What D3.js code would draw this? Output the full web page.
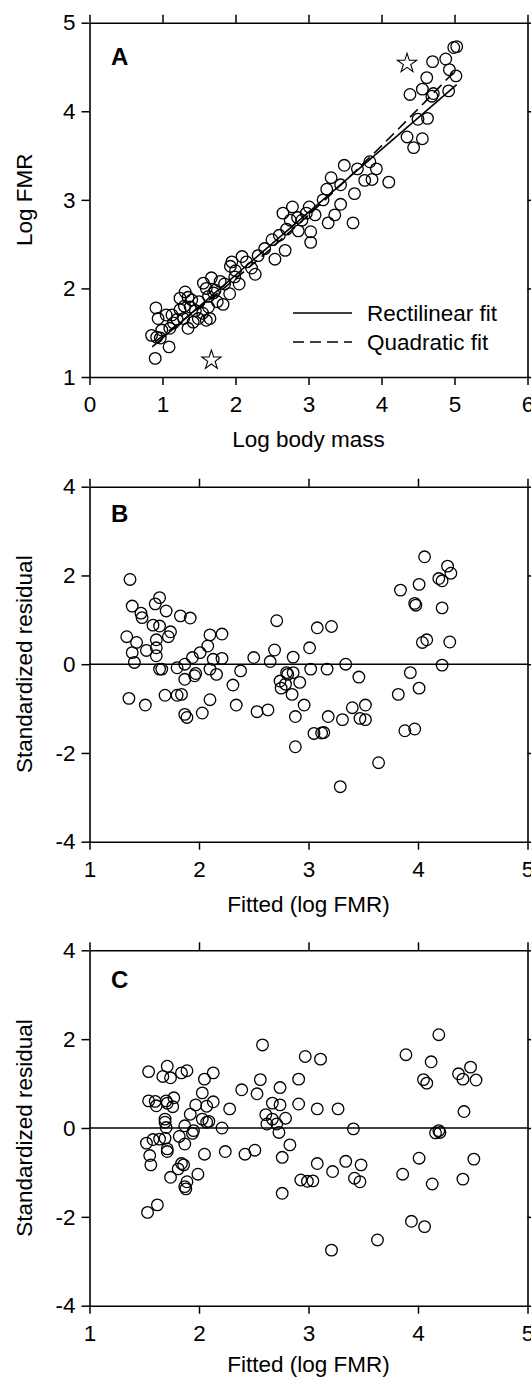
<!DOCTYPE html>
<html><head><meta charset="utf-8">
<script src="https://cdn.jsdelivr.net/npm/d3@7"></script>
<style>body{margin:0;background:#fff}svg{display:block;font-family:"Liberation Sans",Arial,sans-serif}</style>
</head><body><svg id="c" width="531" height="1382"></svg>
<script>
// ---------- DATA ----------
const massA = [5.03,4.99,4.88,4.70,4.93,5.02,4.62,4.56,4.92,4.39,4.69,4.71,4.50,4.63,4.35,4.56,4.44,3.49,3.67,3.84,3.93,3.77,3.87,4.10,3.31,3.25,3.44,3.63,3.01,3.44,3.20,3.09,3.03,3.03,3.27,3.36,3.61,2.91,
 2.78,2.75,2.70,2.86,2.97,2.50,2.68,2.54,2.31,2.09,2.27,2.22,1.93,1.99,1.67,1.56,1.72,1.79,1.92,1.83,1.63,1.63,1.65,1.60,1.49,1.40,1.31,1.24,1.38,1.24,1.29,1.35,1.15,1.13,1.05,0.91,0.94,0.99,0.85,0.92,0.97,1.09,0.90,
 1.45,1.50,1.35,1.20,1.70,1.85,2.00,2.15,2.40,2.60,2.65,2.85,1.10,1.55,1.75,2.05,1.30,1.42,1.60,1.95];
const fmrA  = [4.73,4.72,4.59,4.56,4.47,4.40,4.38,4.25,4.23,4.19,4.17,4.20,3.91,3.92,3.71,3.69,3.59,3.39,3.35,3.43,3.35,3.22,3.23,3.20,3.25,3.12,3.17,3.07,2.92,2.95,3.00,2.83,2.64,2.52,2.74,2.83,2.74,2.77,
 2.92,2.77,2.67,2.65,2.85,2.55,2.43,2.33,2.37,2.36,2.16,2.23,2.25,2.13,2.12,2.06,1.98,2.08,1.94,1.82,1.91,1.79,1.66,1.64,1.66,1.87,1.96,1.89,1.79,1.76,1.66,1.55,1.61,1.70,1.70,1.78,1.66,1.53,1.47,1.45,1.44,1.34,1.21,
 1.75,1.85,1.90,1.65,1.95,2.05,2.20,2.30,2.45,2.60,2.85,2.80,1.55,1.72,1.85,2.05,1.80,1.62,2.00,2.30];
const starX = [1.67,4.35];
const starY = [1.19,4.54];
const linFitX = [0.86,5.03];
const linFitY = [1.34,4.30];
const quadFitX = [0.90,2.00,3.00,4.00,5.00];
const quadFitY = [1.40,2.11,2.83,3.61,4.45];
const legendLabels = ["Rectilinear fit","Quadratic fit"];

const fittedB = [1.37,1.39,1.47,1.48,1.64,1.60,1.70,1.83,1.92,1.58,1.64,1.74,1.72,1.61,1.34,1.43,1.52,1.61,1.39,1.61,1.41,2.10,2.21,2.08,2.01,1.94,2.13,2.21,2.71,2.69,2.50,2.65,2.86,3.01,
 4.06,4.27,4.30,4.19,4.22,4.01,3.84,3.97,3.98,4.22,3.08,3.21,4.08,4.04,4.29,3.34,3.02,3.17,4.22,
 1.64,1.66,1.80,1.87,1.97,1.96,1.87,2.10,2.16,2.38,2.31,1.36,1.51,1.69,1.80,1.84,2.10,2.34,1.87,1.89,2.03,2.53,2.63,2.74,2.80,2.81,2.86,2.79,2.75,2.85,2.92,2.96,2.88,2.88,
 3.46,3.93,4.01,3.18,3.31,3.40,3.52,3.47,3.52,3.82,3.05,3.12,3.14,3.88,3.97,3.64,3.29];
const residB = [1.91,1.31,1.15,1.05,1.50,1.36,1.20,1.09,1.04,0.88,0.86,0.73,0.62,0.55,0.62,0.49,0.31,0.37,0.26,0.19,0.04,0.66,0.68,0.41,0.26,0.15,0.11,0.13,0.98,0.32,0.15,0.06,0.16,0.37,
 2.42,2.21,2.05,1.93,1.88,1.80,1.67,1.37,1.33,1.27,0.82,0.85,0.55,0.49,0.50,0.00,-0.11,-0.11,-0.02,
 -0.11,-0.11,-0.08,0.00,-0.21,-0.26,-0.34,-0.11,-0.23,-0.15,-0.47,-0.77,-0.92,-0.70,-0.70,-0.68,-0.80,-0.92,-1.13,-1.20,-1.10,-1.07,-1.03,-0.38,-0.19,-0.23,-0.19,-0.45,-0.54,-0.68,-0.41,-0.92,-1.18,-1.86,
 -0.29,-0.19,-0.54,-1.18,-1.25,-0.98,-0.92,-1.22,-1.25,-0.68,-1.56,-1.55,-1.54,-1.50,-1.46,-2.22,-2.76];

const fittedC = [2.58,2.97,1.54,1.71,1.67,1.74,1.84,1.89,2.05,2.13,2.03,2.56,2.74,2.91,2.39,2.53,1.54,1.60,1.61,1.70,1.71,1.77,1.76,1.97,2.13,2.07,1.92,1.69,2.03,2.09,2.28,2.67,2.74,2.91,2.61,2.67,2.79,
 4.19,3.89,3.11,4.12,4.48,4.37,4.41,4.53,4.05,4.08,3.08,3.27,4.42,3.41,4.19,
 1.69,1.70,1.87,1.95,1.94,2.07,2.21,2.62,2.71,2.73,1.52,1.58,1.64,1.69,1.82,1.87,1.71,1.71,1.55,1.56,2.05,2.24,2.42,2.51,2.83,2.76,1.84,1.86,1.81,1.99,1.74,1.89,1.87,1.88,2.76,2.93,2.99,1.62,1.53,
 4.16,4.20,3.08,3.22,3.34,3.48,3.42,3.47,3.04,3.86,4.01,4.13,4.41,4.51,3.94,4.06,3.63,3.21];
const residC = [1.87,1.61,1.27,1.39,1.16,1.13,1.24,1.29,1.10,1.24,0.79,1.09,0.91,1.10,0.86,0.77,0.61,0.60,0.50,0.61,0.56,0.68,0.48,0.52,0.59,0.49,0.31,0.20,0.20,0.15,0.43,0.56,0.52,0.54,0.30,0.20,0.22,
 2.10,1.65,1.55,1.49,1.37,1.22,1.10,1.08,1.09,1.01,0.43,0.43,0.37,-0.02,-0.06,
 0.13,0.01,0.05,-0.06,-0.12,0.13,0.00,0.09,0.09,-0.10,-0.34,-0.26,-0.25,-0.23,-0.19,-0.36,-0.47,-0.53,-0.62,-0.83,-0.59,-0.53,-0.59,-0.50,-0.38,-0.66,-0.80,-0.83,-0.92,-1.04,-1.11,-1.21,-1.32,-1.37,-1.47,-1.17,-1.20,-1.73,-1.90,
 -0.11,-0.10,-0.80,-0.98,-0.75,-0.83,-1.13,-1.21,-1.19,-1.04,-0.68,-1.26,-1.15,-0.70,-2.10,-2.22,-2.52,-2.75];

const ticksA_x = [0,1,2,3,4,5,6];
const ticksA_y = [1,2,3,4,5];
const ticksRes_x = [1,2,3,4,5];
const ticksRes_y = [-4,-2,0,2,4];

// ---------- DRAW ----------
const svg = d3.select("#c");
const FS = 22.5;
const L = 89.5, R = 527.5;
const fmt = d => String(d);

function panel(o){
  const g = svg.append("g");
  const x = d3.scaleLinear().domain(o.xd).range([L, R]);
  const y = d3.scaleLinear().domain(o.yd).range([o.bottom, o.top]);
  const tk = 8;
  const axB = d3.axisBottom(x).tickValues(o.xt).tickSize(tk).tickSizeOuter(0).tickPadding(11).tickFormat(fmt);
  const axT = d3.axisTop(x).tickValues(o.xt).tickSize(tk).tickSizeOuter(0).tickFormat("");
  const axL = d3.axisLeft(y).tickValues(o.yt).tickSize(tk).tickSizeOuter(0).tickPadding(6).tickFormat(fmt);
  const axR = d3.axisRight(y).tickValues(o.yt).tickSize(tk).tickSizeOuter(0).tickFormat("");
  const style = s => { s.selectAll("path,line").attr("stroke","#000").attr("stroke-width",1.5);
    s.selectAll("text").attr("font-size",FS).attr("fill","#000").attr("font-family","Liberation Sans, Arial, sans-serif"); };
  g.append("g").attr("transform",`translate(0,${o.bottom})`).call(axB).call(style);
  g.append("g").attr("transform",`translate(0,${o.top})`).call(axT).call(style);
  g.append("g").attr("transform",`translate(${L},0)`).call(axL).call(style);
  g.append("g").attr("transform",`translate(${R},0)`).call(axR).call(style);
  g.selectAll(".domain").attr("stroke-width",1.6);
  if (o.zero) g.append("line").attr("x1",L).attr("x2",R).attr("y1",y(0)).attr("y2",y(0)).attr("stroke","#000").attr("stroke-width",1.6);
  g.append("text").attr("x",111).attr("y",o.letterY).attr("font-size",24).attr("font-weight","bold").text(o.letter);
  g.append("text").attr("x",(L+R)/2).attr("y",o.bottom+o.xtitleDy).attr("text-anchor","middle").attr("font-size",FS).text(o.xtitle);
  g.append("text").attr("transform",`translate(32,${(o.top+o.bottom)/2}) rotate(-90)`).attr("text-anchor","middle").attr("font-size",FS).text(o.ytitle);
  g.selectAll("circle.pt").data(d3.range(o.xs.length)).join("circle").attr("class","pt")
    .attr("cx",i=>x(o.xs[i])).attr("cy",i=>y(o.ys[i])).attr("r",5.8)
    .attr("fill","none").attr("stroke","#000").attr("stroke-width",1.3);
  return {g,x,y};
}

const A = panel({xd:[0,6],yd:[1,5],top:22.7,bottom:377,xt:ticksA_x,yt:ticksA_y,letter:"A",letterY:65,
  xtitle:"Log body mass",ytitle:"Log FMR",xtitleDy:70,xs:massA,ys:fmrA});
A.g.append("path").datum(d3.range(linFitX.length)).attr("d",d3.line().x(i=>A.x(linFitX[i])).y(i=>A.y(linFitY[i])))
  .attr("fill","none").attr("stroke","#000").attr("stroke-width",1.6);
A.g.append("path").datum(d3.range(quadFitX.length)).attr("d",d3.line().curve(d3.curveNatural).x(i=>A.x(quadFitX[i])).y(i=>A.y(quadFitY[i])))
  .attr("fill","none").attr("stroke","#000").attr("stroke-width",1.6).attr("stroke-dasharray","11,6");
A.g.selectAll("path.star").data(d3.range(starX.length)).join("path").attr("class","star")
  .attr("d",d3.symbol(d3.symbolStar,115)).attr("transform",i=>`translate(${A.x(starX[i])},${A.y(starY[i])})`)
  .attr("fill","#fff").attr("stroke","#000").attr("stroke-width",1.1);
const lg = A.g.append("g");
lg.append("line").attr("x1",293).attr("x2",352).attr("y1",313).attr("y2",313).attr("stroke","#000").attr("stroke-width",1.6);
lg.append("line").attr("x1",293).attr("x2",352).attr("y1",342).attr("y2",342).attr("stroke","#000").attr("stroke-width",1.6).attr("stroke-dasharray","11,6");
lg.selectAll("text").data(legendLabels).join("text").attr("x",367).attr("y",(d,i)=>321+i*29).attr("font-size",FS).text(d=>d);

panel({xd:[1,5],yd:[-4,4],top:486.7,bottom:841.7,xt:ticksRes_x,yt:ticksRes_y,letter:"B",letterY:522,
  xtitle:"Fitted (log FMR)",ytitle:"Standardized residual",xtitleDy:70,xs:fittedB,ys:residB,zero:true});
panel({xd:[1,5],yd:[-4,4],top:950.3,bottom:1305.7,xt:ticksRes_x,yt:ticksRes_y,letter:"C",letterY:988,
  xtitle:"Fitted (log FMR)",ytitle:"Standardized residual",xtitleDy:66,xs:fittedC,ys:residC,zero:true});
</script></body></html>
